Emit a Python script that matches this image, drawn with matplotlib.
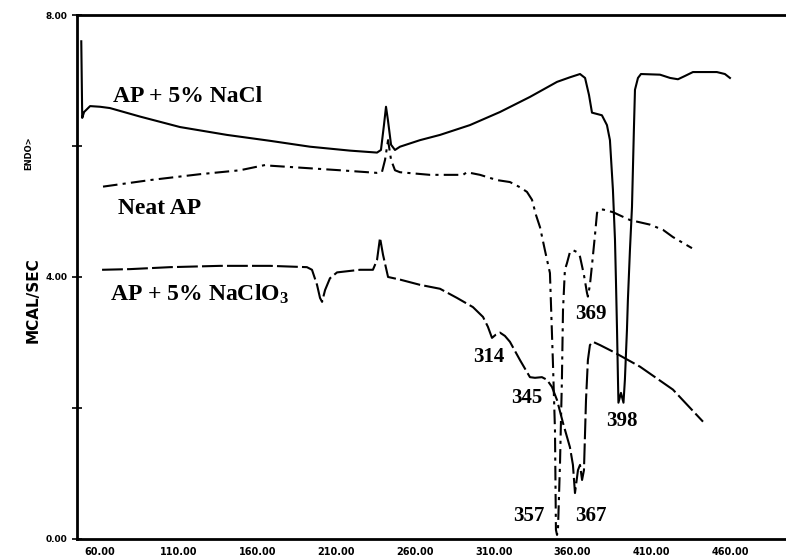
import numpy as np
import matplotlib
matplotlib.use("Agg")
import matplotlib.pyplot as plt

# AP + 5% NaCl (solid)
nacl_t = [48.1, 48.7, 49.9, 53.7, 60.0, 66.3, 85.4, 110.8, 140.6, 167.9, 193.3, 218.7,
          235.9, 238.4, 240.3, 241.6, 242.8, 244.8, 247.3, 250.5, 263.2, 275.9, 294.9,
          314.0, 333.0, 350.2, 358.4, 364.8, 368.0, 370.5, 372.4, 378.7, 381.9, 383.8,
          385.7, 387.0, 387.6, 388.3, 388.9, 389.2, 390.8, 392.4, 393.3, 394.6, 395.2,
          396.5, 397.8, 399.0, 399.7, 401.6, 403.5, 415.6, 422.0, 427.0, 431.4, 436.5,
          451.7, 456.8, 460.0]
nacl_q = [7.60, 6.43, 6.52, 6.61, 6.60, 6.58, 6.45, 6.29, 6.17, 6.08, 5.99, 5.93,
          5.90, 5.94, 6.32, 6.60, 6.40, 6.02, 5.94, 5.99, 6.09, 6.17, 6.32,
          6.52, 6.75, 6.98, 7.05, 7.10, 7.04, 6.78, 6.51, 6.47, 6.32, 6.09,
          5.33, 4.57, 3.96, 3.19, 2.43, 2.08, 2.23, 2.08, 2.43, 3.19, 3.65,
          4.41, 5.07, 6.24, 6.86, 7.04, 7.10, 7.09, 7.04, 7.02, 7.07, 7.13,
          7.13, 7.10, 7.04]

# Neat AP (dash-dot)
neat_t = [61.9, 91.7, 123.5, 148.9, 164.8, 167.9, 187.0, 212.4, 235.9, 239.0, 241.0,
          242.9, 244.8, 247.3, 250.5, 269.5, 290.5, 293.0, 301.3, 312.1, 320.3, 326.7,
          331.1, 334.3, 336.8, 339.4, 342.5, 345.7, 347.6, 348.9, 349.5, 350.2, 350.8,
          352.1, 353.3, 354.0, 355.2, 356.5, 358.4, 360.3, 362.9, 364.8, 367.3, 369.2,
          369.8, 371.1, 372.4, 374.3, 375.6, 377.5, 379.4, 385.7, 396.5, 409.2, 417.5,
          423.8, 430.2, 435.9]
neat_q = [5.38, 5.48, 5.57, 5.63, 5.71, 5.70, 5.67, 5.63, 5.59, 5.60, 5.79,
          6.09, 5.79, 5.63, 5.60, 5.56, 5.56, 5.60, 5.56, 5.48, 5.45, 5.37,
          5.30, 5.18, 4.95, 4.76, 4.41, 4.06, 2.69, 1.66, 0.14, 0.06, 0.14,
          1.16, 2.43, 3.50, 4.11, 4.21, 4.38, 4.41, 4.38, 4.31, 4.03, 3.76,
          3.70, 3.88, 4.18, 4.64, 4.98, 5.03, 5.03, 4.99, 4.87, 4.80, 4.72,
          4.61, 4.52, 4.44]

# AP + 5% NaClO3 (dashed)
clo3_t = [61.3, 79.0, 104.4, 136.2, 167.9, 191.4, 194.6, 197.8, 199.7, 201.0, 202.9,
          206.0, 210.5, 225.1, 233.3, 235.9, 237.8, 239.7, 242.9, 250.5, 263.2, 275.9,
          286.7, 296.8, 303.2, 306.3, 308.9, 311.4, 314.0, 317.1, 320.3, 326.7, 333.0,
          336.2, 340.6, 343.8, 347.0, 350.2, 354.0, 358.4, 360.3, 361.6, 363.5, 364.8,
          366.1, 367.3, 368.6, 369.8, 371.1, 373.0, 377.5, 385.7, 402.9, 423.8, 442.9]
clo3_q = [4.11, 4.12, 4.15, 4.17, 4.17, 4.15, 4.11, 3.88, 3.68, 3.62, 3.80,
          3.98, 4.07, 4.11, 4.11, 4.26, 4.60, 4.34, 4.00, 3.96, 3.88, 3.82,
          3.68, 3.54, 3.39, 3.24, 3.07, 3.12, 3.15, 3.10, 3.01, 2.73, 2.47,
          2.46, 2.47, 2.43, 2.32, 2.12, 1.77, 1.40, 1.13, 0.70, 1.05, 1.13,
          0.90, 1.05, 2.12, 2.73, 2.96, 3.01, 2.96, 2.86, 2.63, 2.28, 1.79]

x_ticks = [60, 110, 160, 210, 260, 310, 360, 410, 460]
y_ticks = [0, 4, 8]

curve_labels = [("AP + 5% NaCl", 68.3, 6.76), ("Neat AP", 71.4, 5.04),
                ("AP + 5% NaClO$_3$", 66.3, 3.73)]
peak_labels = [("314", 307.0, 2.78), ("345", 331.1, 2.15), ("357", 332.4, 0.35),
               ("367", 371.7, 0.35), ("369", 371.7, 3.44), ("398", 391.4, 1.80)]

plt.rcParams['mathtext.default'] = 'regular'
fig = plt.figure(figsize=(7.86, 5.59), dpi=100)
ax = fig.add_axes([0.098, 0.036, 0.902, 0.937])

ax.plot(nacl_t, nacl_q, color="black", lw=1.5, ls="-")
ax.plot(neat_t, neat_q, color="black", lw=1.5, ls=(0, (7, 2.5, 1.5, 2.5)))
ax.plot(clo3_t, clo3_q, color="black", lw=1.5, ls=(0, (10, 2)))

ax.set_xlim(45.4, 495.6)
ax.set_ylim(0, 8)
ax.set_xticks(x_ticks)
ax.set_xticklabels(["%.2f" % v for v in x_ticks])
ax.set_yticks(y_ticks)
ax.set_yticklabels(["%.2f" % v for v in y_ticks])
ax.set_yticks([2, 6], minor=True)
ax.tick_params(axis="y", which="both", direction="inout", length=7, width=1.2,
               labelsize=6.5)
ax.tick_params(axis="x", length=0, labelsize=7, pad=6)
for lab in ax.get_xticklabels() + ax.get_yticklabels():
    lab.set_fontweight("bold")
ax.spines["right"].set_visible(False)
for s in ["left", "bottom", "top"]:
    ax.spines[s].set_linewidth(2)

for txt, x, y in curve_labels:
    ax.text(x, y, txt, family="Liberation Serif", fontsize=17, fontweight="bold",
            ha="left", va="center")
for txt, x, y in peak_labels:
    ax.text(x, y, txt, family="Liberation Serif", fontsize=15, fontweight="bold",
            ha="center", va="center")

fig.text(0.042, 0.463, "MCAL/SEC", rotation=90, ha="center", va="center",
         fontsize=11, fontweight="bold")
fig.text(0.037, 0.726, "ENDO>", rotation=90, ha="center", va="center",
         fontsize=6, fontweight="bold")

fig.savefig("out.png", dpi=100)
